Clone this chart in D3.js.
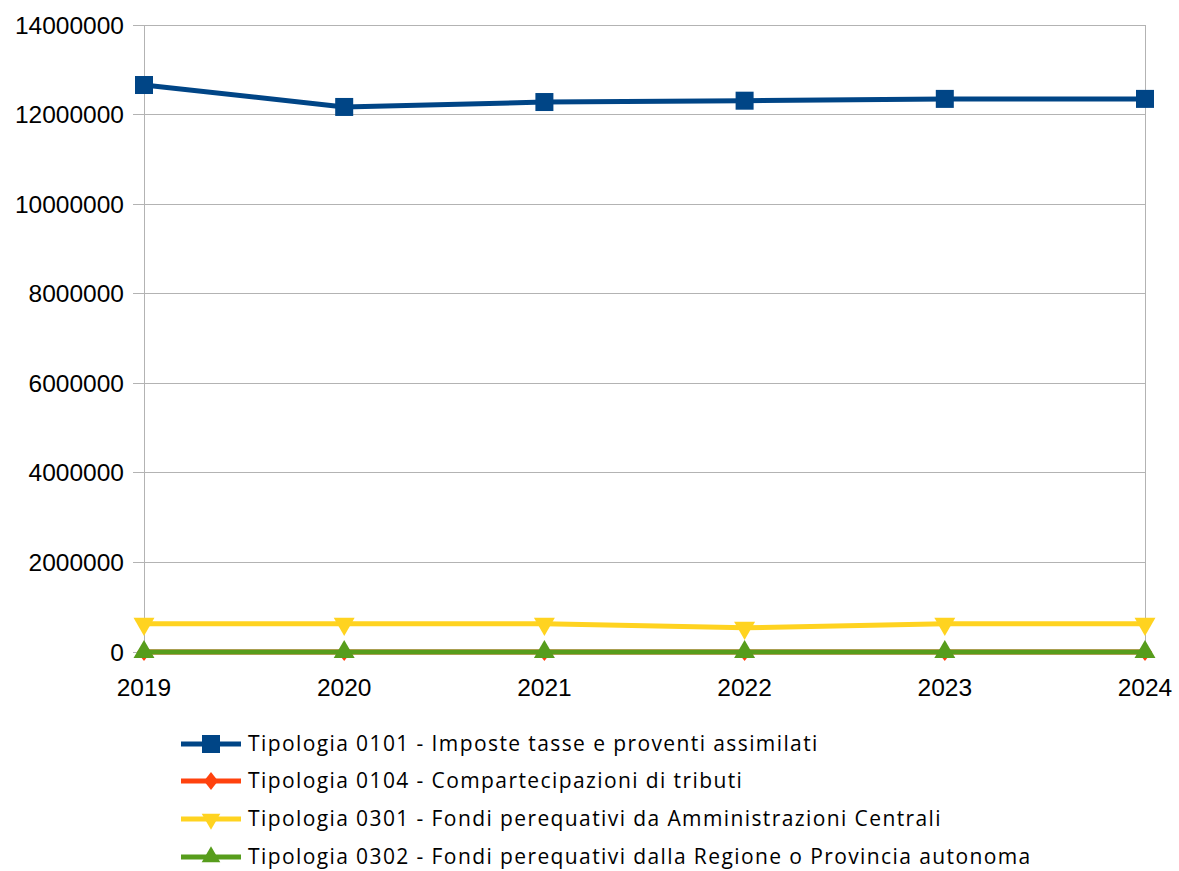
<!DOCTYPE html>
<html><head><meta charset="utf-8">
<script src="https://cdn.jsdelivr.net/npm/d3@7"></script>
<style>body{margin:0;background:#fff}</style>
</head><body>
<svg id="c" width="1179" height="871"></svg>
<script>
const years = ["2019","2020","2021","2022","2023","2024"];
const s0101 = [12660000, 12170000, 12280000, 12310000, 12350000, 12350000];
const s0104 = [0, 0, 0, 0, 0, 0];
const s0301 = [630000, 630000, 630000, 540000, 630000, 630000];
const s0302 = [0, 0, 0, 0, 0, 0];
const yTicks = [0, 2000000, 4000000, 6000000, 8000000, 10000000, 12000000, 14000000];
const seriesNames = [
  "Tipologia 0101 - Imposte tasse e proventi assimilati",
  "Tipologia 0104 - Compartecipazioni di tributi",
  "Tipologia 0301 - Fondi perequativi da Amministrazioni Centrali",
  "Tipologia 0302 - Fondi perequativi dalla Regione o Provincia autonoma"
];
const colors = ["#004586", "#ff420e", "#ffd320", "#579d1c"];
const symbols = [d3.symbolSquare, d3.symbolDiamond, "down", d3.symbolTriangle];
const series = [s0101, s0104, s0301, s0302];

const svg = d3.select("#c");
const L = 144, R = 1145, T = 25, B = 652;
const x = d3.scalePoint().domain(years).range([L, R]);
const y = d3.scaleLinear().domain([0, 14000000]).range([B, T]);

// grid
svg.append("g").selectAll("line").data(yTicks).join("line")
  .attr("x1", L - 11).attr("x2", R).attr("y1", d => y(d)).attr("y2", d => y(d))
  .attr("stroke", "#b3b3b3").attr("stroke-width", 1).attr("shape-rendering","crispEdges");
svg.append("line").attr("x1", L).attr("x2", L).attr("y1", T).attr("y2", B + 8)
  .attr("stroke", "#b3b3b3").attr("shape-rendering","crispEdges");
svg.append("line").attr("x1", R).attr("x2", R).attr("y1", T).attr("y2", B)
  .attr("stroke", "#b3b3b3").attr("shape-rendering","crispEdges");

// y labels
svg.append("g").selectAll("text").data(yTicks).join("text")
  .attr("x", 124).attr("y", d => y(d)).attr("dy", "0.35em")
  .attr("text-anchor", "end").attr("font-family", "Liberation Sans, Arial, sans-serif")
  .attr("font-size", 24.5).attr("fill", "#000").text(d => d3.format("d")(d));
// x labels
svg.append("g").selectAll("text").data(years).join("text")
  .attr("x", d => x(d)).attr("y", 696)
  .attr("text-anchor", "middle").attr("font-family", "Liberation Sans, Arial, sans-serif")
  .attr("font-size", 24.5).attr("fill", "#000").text(d => d);

function marker(g, sym, size, color) {
  if (sym === "down") {
    g.append("path").attr("d", d3.symbol(d3.symbolTriangle, size)()).attr("transform", "rotate(180)").attr("fill", color);
  } else if (sym === d3.symbolDiamond) {
    g.append("path").attr("d", "M0,-9L7,0L0,9L-7,0Z").attr("fill", color);
  } else if (sym === d3.symbolSquare) {
    g.append("rect").attr("x", -9).attr("y", -9).attr("width", 18).attr("height", 18).attr("fill", color);
  } else {
    g.append("path").attr("d", d3.symbol(sym, size)()).attr("fill", color);
  }
}

const line = d3.line().x((d, i) => x(years[i])).y(d => y(d));
series.forEach((s, k) => {
  const g = svg.append("g");
  g.append("path").datum(s).attr("d", line).attr("fill", "none")
    .attr("stroke", colors[k]).attr("stroke-width", 5).attr("stroke-linejoin", "round");
  s.forEach((v, i) => {
    const mg = g.append("g").attr("transform", `translate(${x(years[i])},${y(v)})`);
    marker(mg, symbols[k], 190, colors[k]);
  });
});

// legend
const legY = [744, 781, 819, 857];
seriesNames.forEach((n, k) => {
  const g = svg.append("g").attr("transform", `translate(0,${legY[k]})`);
  g.append("line").attr("x1", 181).attr("x2", 241).attr("y1", 0).attr("y2", 0)
    .attr("stroke", colors[k]).attr("stroke-width", 5);
  const mg = g.append("g").attr("transform", "translate(211,0)");
  marker(mg, symbols[k], 150, colors[k]);
  g.append("text").attr("x", 248).attr("y", 0).attr("dy", "0.35em")
    .attr("font-family", "Open Sans, sans-serif").attr("font-size", 21)
    .attr("letter-spacing", "1.4px").attr("fill", "#000").text(n);
});
</script>
</body></html>
